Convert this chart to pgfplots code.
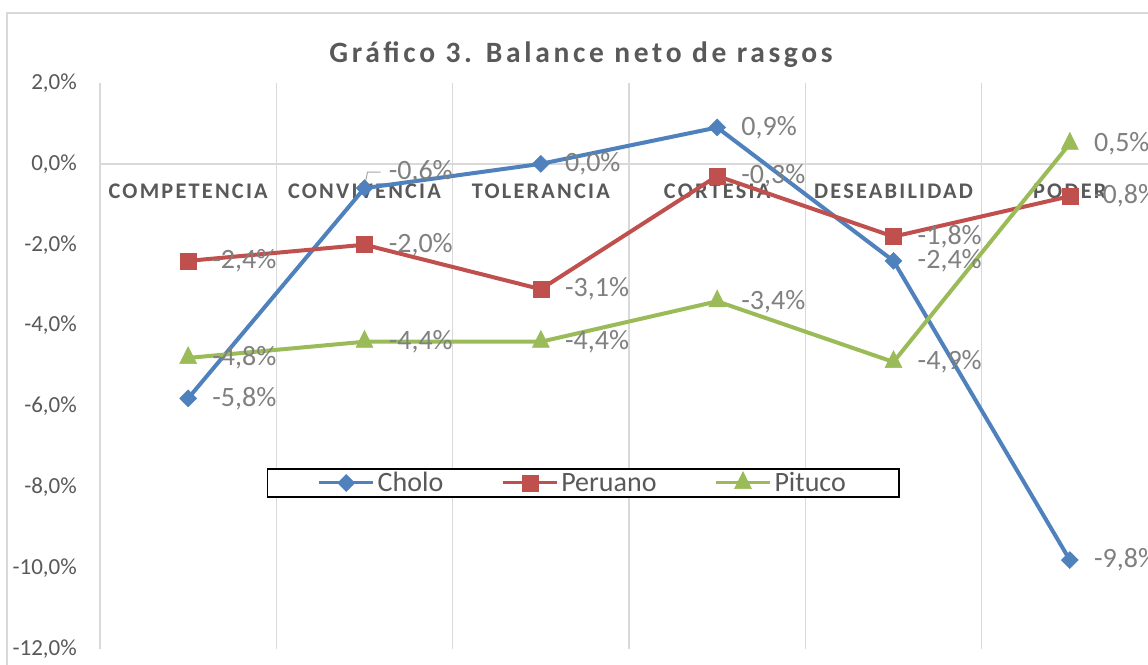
\documentclass[border=0pt]{standalone}
\usepackage{pgfplots}
\pgfplotsset{compat=1.18}
\usepackage{pgfplotstable}
\usepackage{fontspec}
\setmainfont{Carlito}
\newfontfamily\spaced[LetterSpace=10]{Carlito}
\newfontfamily\spacedtitle[LetterSpace=12.5]{Carlito}
\definecolor{cblue}{HTML}{4F81BD}
\definecolor{cred}{HTML}{C0504D}
\definecolor{cgreen}{HTML}{9BBB59}
\definecolor{txt}{HTML}{595959}
\definecolor{lbl}{HTML}{808080}
\definecolor{gridc}{HTML}{D9D9D9}

\pgfplotstableread{
x y dy
0 -5.8 0
1 -0.6 16
2 0.0 0
3 0.9 0
4 -2.4 0
5 -9.8 0
}\cholo
\pgfplotstableread{
x y dy
0 -2.4 0
1 -2.0 0
2 -3.1 0
3 -0.3 0
4 -1.8 0
5 -0.8 0
}\peruano
\pgfplotstableread{
x y dy
0 -4.8 0
1 -4.4 0
2 -4.4 0
3 -3.4 0
4 -4.9 0
5 0.5 0
}\pituco

\begin{document}
\begin{tikzpicture}
\useasboundingbox (0,0) rectangle (1148pt,-664pt);
\clip (0,0) rectangle (1148pt,-664pt);
\fill[white] (0,0) rectangle (1148pt,-664pt);
\draw[gridc, line width=1.5pt] (7pt,-700pt) -- (7pt,-13pt) -- (1200pt,-13pt);
\node[anchor=base, text=txt, inner sep=0pt, font=\spacedtitle\bfseries\fontsize{29.5}{34}\selectfont] at (581pt,-62.7pt) {Gráfico 3. Balance neto de rasgos};
\begin{axis}[
  scale only axis, width=1058pt, height=566pt,
  at={(100pt,-649pt)}, anchor=south west,
  xmin=-0.5, xmax=5.5, ymin=-12, ymax=2,
  axis x line*=middle, axis y line*=left,
  axis line style={gridc, line width=1.5pt},
  xtick={0,...,5},
  xticklabels={COMPETENCIA, CONVIVENCIA, TOLERANCIA, CORTESIA, DESEABILIDAD, PODER},
  xticklabel style={font=\spaced\bfseries\fontsize{22.3}{26}\selectfont, text=txt, anchor=base, yshift=-35pt, inner sep=0pt},
  minor xtick={-0.5,0.5,...,5.5},
  xminorgrids, minor x grid style={gridc, line width=1.5pt},
  ytick={-12,-10,...,2},
  yticklabel={\pgfmathprintnumber[fixed,fixed zerofill,precision=1,use comma,assume math mode=true]{\tick}\%},
  yticklabel style={font=\fontsize{23}{27}\selectfont, text=txt, inner sep=0pt, anchor=east, xshift=-23pt},
  major tick length=0pt, minor tick length=0pt,
  tick style={draw=none},
  clip=false,
  nodes near coords={\pgfmathprintnumber[fixed,fixed zerofill,precision=1,use comma,assume math mode=true]{\pgfplotspointmeta}\%},
  every node near coord/.append style={anchor=west, xshift=24pt, inner sep=0pt, font=\fontsize{28}{32}\selectfont, text=lbl},
  legend style={at={(rel axis cs:0.1578,0.2933)}, anchor=west, draw=black, line width=1.5pt, fill=white,
    font=\fontsize{28}{32}\selectfont, text=txt, legend columns=3, inner xsep=50pt, inner ysep=0.5pt,
    /tikz/every even column/.append style={column sep=55pt},
    nodes={inner sep=3pt}},
  legend cell align=left,
  legend image code/.code={\draw[mark repeat=2,mark phase=2,#1,line width=3pt] plot coordinates {(0pt,0pt) (27pt,0pt) (54pt,0pt)};},
]
\addplot[cblue, line width=4pt, mark=square*, mark size=6pt, mark options={rotate=45, line width=0.5pt, solid, fill=cblue},
  visualization depends on={\thisrow{dy} \as \labdy},
  every node near coord/.append style={yshift=\labdy pt}] table[x=x,y=y] {\cholo};
\addlegendentry{Cholo}
\addplot[cred, line width=4pt, mark=square*, mark size=8pt, mark options={line width=0.5pt, solid, fill=cred},
  visualization depends on={\thisrow{dy} \as \labdy},
  every node near coord/.append style={yshift=\labdy pt}] table[x=x,y=y] {\peruano};
\addlegendentry{Peruano}
\addplot[cgreen, line width=4pt, mark=triangle*, mark size=9.8pt, mark options={line width=0.5pt, solid, fill=cgreen, yscale=1.15},
  visualization depends on={\thisrow{dy} \as \labdy},
  every node near coord/.append style={yshift=\labdy pt}] table[x=x,y=y] {\pituco};
\addlegendentry{Pituco}
\draw[lbl!70, line width=1pt] (axis cs:1,-0.6) ++(1pt,6pt) -- ++(2pt,10pt) -- ++(13pt,0pt);
\end{axis}
\end{tikzpicture}
\end{document}
